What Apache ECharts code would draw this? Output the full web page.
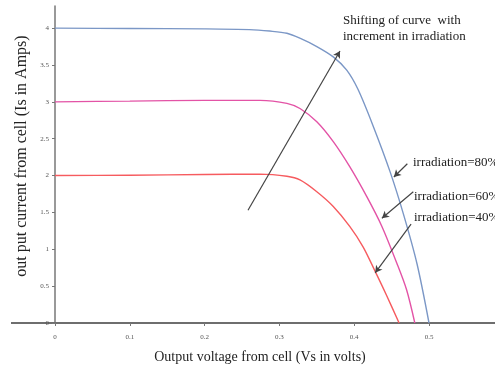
<!DOCTYPE html>
<html>
<head>
<meta charset="utf-8">
<script src="https://cdn.jsdelivr.net/npm/echarts@6/dist/echarts.min.js"></script>
<style>
  html, body { margin: 0; padding: 0; background: #fff; }
  #chart { width: 495px; height: 369px; }
</style>
</head>
<body>
<div id="chart"></div>
<script>
// I-V curves (volts, amps)
const v80 = [0, 0.1, 0.2, 0.26, 0.287, 0.31, 0.328, 0.35, 0.372, 0.39, 0.405, 0.425, 0.448, 0.466, 0.484, 0.5]
const i80 = [4.0, 3.995, 3.99, 3.98, 3.96, 3.93, 3.86, 3.75, 3.61, 3.43, 3.17, 2.68, 2.05, 1.47, 0.8, 0]
const v60 = [0, 0.1, 0.2, 0.274, 0.31, 0.3275, 0.35, 0.372, 0.394, 0.417, 0.437, 0.457, 0.47, 0.481]
const i60 = [3.0, 3.01, 3.02, 3.02, 2.98, 2.91, 2.73, 2.46, 2.12, 1.71, 1.31, 0.81, 0.45, 0]
const v40 = [0, 0.1, 0.2, 0.274, 0.31, 0.3275, 0.35, 0.372, 0.394, 0.412, 0.428, 0.443, 0.46]
const i40 = [2.0, 2.005, 2.015, 2.02, 1.99, 1.94, 1.78, 1.58, 1.31, 1.03, 0.7, 0.38, 0]

const xTicks = [0, 0.1, 0.2, 0.3, 0.4, 0.5]
const yTicks = [0, 0.5, 1, 1.5, 2, 2.5, 3, 3.5, 4]
const seriesNames = ['irradiation=80%', 'irradiation=60%', 'irradiation=40%']
const colors = ['#7b97c6', '#e353a6', '#f65b5f']

const pair = (xs, ys) => xs.map((x, i) => [x, ys[i]])

const serif = '"Liberation Serif", "DejaVu Serif", serif'
const arrowStyle = { color: '#444', width: 1.2, type: 'solid' }

const chart = echarts.init(document.getElementById('chart'))

chart.setOption({
  animation: false,
  grid: { left: 55, right: 0, top: 6, bottom: 46, containLabel: false, outerBoundsMode: 'none' },
  xAxis: {
    type: 'value',
    min: 0,
    max: 0.5882,
    splitLine: { show: false },
    axisLine: { onZero: false, lineStyle: { color: '#6e6e6e', width: 2 } },
    axisTick: { customValues: xTicks, length: 3, lineStyle: { color: '#777' } },
    axisLabel: {
      customValues: xTicks,
      margin: 11,
      fontSize: 7,
      color: '#555',
      fontFamily: serif,
    },
  },
  yAxis: {
    type: 'value',
    min: 0,
    max: 4.3,
    splitLine: { show: false },
    axisLine: { lineStyle: { color: '#777', width: 1.5 } },
    axisTick: { customValues: yTicks, length: 3, lineStyle: { color: '#777' } },
    axisLabel: {
      customValues: yTicks,
      margin: 6,
      fontSize: 7,
      color: '#555',
      fontFamily: serif,
    },
  },
  series: [
    {
      name: seriesNames[0],
      type: 'line',
      data: pair(v80, i80),
      smooth: 0.3,
      showSymbol: false,
      lineStyle: { width: 1.4, color: colors[0] },
      markLine: {
        silent: true,
        symbol: ['none', 'arrow'],
        symbolSize: [6, 7],
        label: { show: false },
        lineStyle: arrowStyle,
        data: [
          [{ coord: [0.258, 1.53] }, { coord: [0.381, 3.69] }],
          [{ coord: [0.471, 2.16] }, { coord: [0.453, 1.98] }],
          [{ coord: [0.479, 1.78] }, { coord: [0.437, 1.42] }],
          [{ coord: [0.476, 1.34] }, { coord: [0.428, 0.68] }],
        ],
      },
    },
    {
      name: seriesNames[1],
      type: 'line',
      data: pair(v60, i60),
      smooth: 0.3,
      showSymbol: false,
      lineStyle: { width: 1.4, color: colors[1] },
    },
    {
      name: seriesNames[2],
      type: 'line',
      data: pair(v40, i40),
      smooth: 0.3,
      showSymbol: false,
      lineStyle: { width: 1.4, color: colors[2] },
    },
  ],
  graphic: [
    // x axis line runs a bit left of the y axis in the original
    {
      type: 'line',
      shape: { x1: 11, y1: 323, x2: 55, y2: 323 },
      style: { stroke: '#6e6e6e', lineWidth: 2 },
      silent: true,
    },
    {
      type: 'text',
      x: 22,
      y: 156,
      rotation: Math.PI / 2,
      style: {
        text: 'out put current from cell (Is in Amps)',
        font: '16px ' + serif,
        fill: '#222',
        align: 'center',
        verticalAlign: 'middle',
      },
    },
    {
      type: 'text',
      x: 260,
      y: 357,
      style: {
        text: 'Output voltage from cell (Vs in volts)',
        font: '14px ' + serif,
        fill: '#222',
        align: 'center',
        verticalAlign: 'middle',
      },
    },
    {
      type: 'text',
      x: 343,
      y: 29,
      style: {
        text: 'Shifting of curve  with\nincrement in irradiation',
        font: '13px ' + serif,
        lineHeight: 16,
        fill: '#222',
        align: 'left',
        verticalAlign: 'middle',
      },
    },
    {
      type: 'text', x: 413, y: 163,
      style: { text: seriesNames[0], font: '13px ' + serif, fill: '#222', verticalAlign: 'middle' },
    },
    {
      type: 'text', x: 414, y: 197,
      style: { text: seriesNames[1], font: '13px ' + serif, fill: '#222', verticalAlign: 'middle' },
    },
    {
      type: 'text', x: 414, y: 218,
      style: { text: seriesNames[2], font: '13px ' + serif, fill: '#222', verticalAlign: 'middle' },
    },
  ],
})
</script>
</body>
</html>
